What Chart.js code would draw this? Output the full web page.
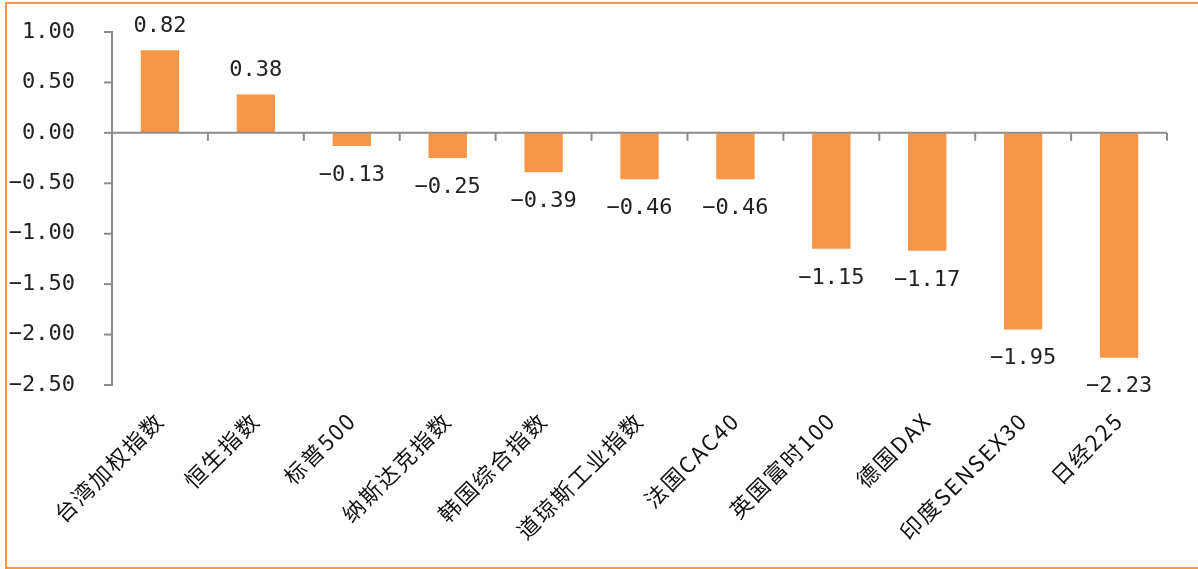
<!DOCTYPE html>
<html>
<head>
<meta charset="utf-8">
<script src="https://cdn.jsdelivr.net/npm/chart.js@4"></script>
<style>
html,body{margin:0;padding:0;background:#fff;overflow:hidden;}
#wrap{position:absolute;left:0;top:0;width:1198px;height:569px;}
#frame{position:absolute;left:5px;top:2px;width:1200px;height:563px;border:2px solid #F79646;box-sizing:content-box;pointer-events:none;}
canvas{position:absolute;left:0;top:0;}
</style>
</head>
<body>
<div id="wrap"><canvas id="c" width="1198" height="569"></canvas><div id="frame"></div></div>
<script>
const categories = ["台湾加权指数","恒生指数","标普500","纳斯达克指数","韩国综合指数","道琼斯工业指数","法国CAC40","英国富时100","德国DAX","印度SENSEX30","日经225"];
const values = [0.82, 0.38, -0.13, -0.25, -0.39, -0.46, -0.46, -1.15, -1.17, -1.95, -2.23];
const yMin = -2.5, yMax = 1.0, yStep = 0.5;

const numFont = "'DejaVu Sans Mono', monospace";
const cjkFont = "'Noto Sans CJK SC', sans-serif";
const axisColor = '#8c8c8c';

const axisPlugin = {
  id: 'axisMarks',
  beforeDraw(chart) {
    const xs = chart.scales.x;
    if (!xs._patched) {
      const orig = xs.drawLabels;
      xs.drawLabels = function(area) {
        const ctx = this.ctx;
        const prev = ctx.letterSpacing;
        ctx.letterSpacing = '2px';
        orig.call(this, area);
        ctx.letterSpacing = prev || '0px';
      };
      xs._patched = true;
    }
  },
  afterDatasetsDraw(chart) {
    const {ctx, chartArea, scales} = chart;
    const y0 = scales.y.getPixelForValue(0);
    ctx.save();
    ctx.strokeStyle = axisColor;
    ctx.lineWidth = 2;
    // zero baseline
    ctx.beginPath();
    ctx.moveTo(chartArea.left, y0);
    ctx.lineTo(chartArea.right, y0);
    ctx.stroke();
    // category boundary ticks
    const n = categories.length;
    const step = scales.x.getPixelForValue(1) - scales.x.getPixelForValue(0);
    for (let i = 0; i < n; i++) {
      const x = scales.x.getPixelForValue(i) + step / 2;
      ctx.beginPath();
      ctx.moveTo(x, y0);
      ctx.lineTo(x, y0 + 8);
      ctx.stroke();
    }
    // y-axis tick marks
    scales.y.ticks.forEach(t => {
      const y = scales.y.getPixelForValue(t.value);
      ctx.beginPath();
      ctx.moveTo(chartArea.left - 8, y);
      ctx.lineTo(chartArea.left, y);
      ctx.stroke();
    });
    ctx.restore();
  }
};

const labelPlugin = {
  id: 'valLabels',
  afterDatasetsDraw(chart) {
    const {ctx} = chart;
    const meta = chart.getDatasetMeta(0);
    ctx.save();
    ctx.fillStyle = '#222';
    ctx.font = "22px " + numFont;
    ctx.textAlign = 'center';
    ctx.textBaseline = 'middle';
    meta.data.forEach((bar, i) => {
      const v = values[i];
      const txt = v.toFixed(2).replace('-', '\u2212');
      const y = v >= 0 ? bar.y - 24 : bar.y + 29;
      ctx.fillText(txt, bar.x, y);
    });
    ctx.restore();
  }
};

new Chart(document.getElementById('c'), {
  type: 'bar',
  data: {
    labels: categories,
    datasets: [{
      data: values,
      backgroundColor: '#F79646',
      borderWidth: 0,
      barPercentage: 0.4,
      categoryPercentage: 1.0
    }]
  },
  options: {
    responsive: false,
    animation: false,
    devicePixelRatio: 1,
    layout: {padding: {left: 0, right: 31, top: 32, bottom: 0}},
    plugins: {legend: {display: false}, tooltip: {enabled: false}},
    scales: {
      x: {
        grid: {display: false, drawTicks: false},
        border: {display: false},
        ticks: {
          color: '#111',
          font: {family: cjkFont, size: 22},
          minRotation: 45, maxRotation: 45,
          padding: 22,
          labelOffset: 0,
          autoSkip: false
        },
        afterFit(s) { s.height = 184; }
      },
      y: {
        min: yMin, max: yMax,
        grid: {drawOnChartArea: false, drawTicks: true, tickLength: 31, tickColor: 'rgba(0,0,0,0)'},
        border: {display: true, color: axisColor, width: 2},
        ticks: {
          stepSize: yStep,
          color: '#222',
          font: {family: numFont, size: 22},
          padding: 6,
          callback: v => Number(v).toFixed(2).replace('-', '\u2212')
        },
        afterFit(s) { s.width = 112; }
      }
    }
  },
  plugins: [axisPlugin, labelPlugin]
});
</script>
</body>
</html>
